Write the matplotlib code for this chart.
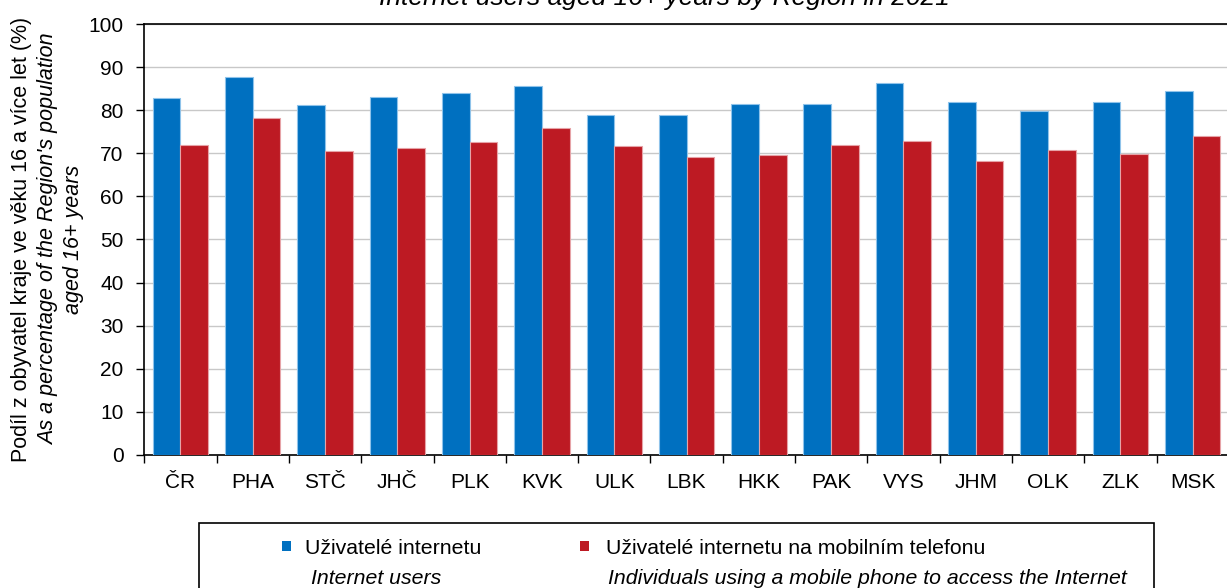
import matplotlib
matplotlib.use("Agg")
import matplotlib.pyplot as plt
from matplotlib.patches import Rectangle

plt.rcParams['font.family'] = ['Liberation Sans', 'DejaVu Sans']

# Regions (kraje) and shares of population aged 16+ (%)
regions = ["ČR", "PHA", "STČ", "JHČ", "PLK", "KVK", "ULK", "LBK",
           "HKK", "PAK", "VYS", "JHM", "OLK", "ZLK", "MSK"]
internet_users = [82.9, 87.6, 81.2, 83.1, 84.1, 85.5, 78.9, 78.9,
                  81.5, 81.4, 86.4, 81.8, 79.7, 81.8, 84.4]
mobile_users = [72.0, 78.3, 70.5, 71.3, 72.7, 75.9, 71.6, 69.1,
                69.7, 71.9, 72.9, 68.3, 70.7, 69.9, 74.0]
y_ticks = [0, 10, 20, 30, 40, 50, 60, 70, 80, 90, 100]

BLUE = "#0070C0"
RED = "#BD1A23"
FS = 15
LFS = 15.3

W, H = 1227, 588
fig = plt.figure(figsize=(W / 100, H / 100), dpi=100)

def fx(px):
    return px / W

def fy(py):
    return (H - py) / H

ax_left, ax_right, ax_top, ax_bottom = 144.3, 1228.8, 24.0, 455.0
ax = fig.add_axes([fx(ax_left), fy(ax_bottom),
                   fx(ax_right - ax_left), (ax_bottom - ax_top) / H])

n = len(regions)
xs = list(range(n))
bw = 0.383
ax.bar([x - bw / 2 for x in xs], internet_users, width=bw, color=BLUE,
       edgecolor="#8fc3ea", linewidth=0.8, zorder=3)
ax.bar([x + bw / 2 for x in xs], mobile_users, width=bw, color=RED,
       edgecolor="#e6a3a7", linewidth=0.8, zorder=3)

ax.set_xlim(-0.5, n - 0.5)
ax.set_ylim(0, 100)
ax.set_yticks(y_ticks)
ax.set_yticklabels([str(v) for v in y_ticks], fontsize=FS)
ax.yaxis.grid(True, color="#c8c8c8", linewidth=1.0, zorder=0)
ax.set_axisbelow(True)

# category boundaries carry the tick marks, labels sit at the centres
ax.set_xticks([x - 0.5 for x in range(n + 1)])
ax.set_xticklabels([])
ax.set_xticks(xs, minor=True)
ax.set_xticklabels(regions, minor=True, fontsize=FS)
ax.tick_params(axis="x", which="major", direction="out", length=6, width=1.0)
ax.tick_params(axis="x", which="minor", length=0, pad=13)
ax.tick_params(axis="y", direction="out", length=6, width=1.0, pad=9)

for side in ("left", "bottom", "top"):
    ax.spines[side].set_color("black")
    ax.spines[side].set_linewidth(1.2)
ax.spines["right"].set_visible(False)

# axis title in three lines (Czech / English)
YL = 15.5
fig.text(fx(27), fy(239), "Podíl z obyvatel kraje ve věku 16 a více let (%)",
         rotation=90, rotation_mode="anchor", ha="center", va="baseline",
         fontsize=YL)
fig.text(fx(54), fy(239), "As a percentage of the Region's population",
         rotation=90, rotation_mode="anchor", ha="center", va="baseline",
         fontsize=YL, style="italic")
fig.text(fx(79), fy(239), "aged 16+ years",
         rotation=90, rotation_mode="anchor", ha="center", va="baseline",
         fontsize=YL, style="italic")

# chart title
fig.text(fx(664), fy(5.5), "Internet users aged 16+ years by Region in 2021",
         ha="center", va="baseline", fontsize=19, style="italic")

# legend box
fig.patches.append(Rectangle((fx(199), -0.05), fx(1154 - 199), fy(522.7) + 0.05,
                             transform=fig.transFigure, facecolor="white",
                             edgecolor="black", linewidth=1.2))
sq = 9.5
fig.patches.append(Rectangle((fx(281.5), fy(550.5)), fx(sq), sq / H,
                             transform=fig.transFigure, facecolor=BLUE,
                             edgecolor="none"))
fig.patches.append(Rectangle((fx(579.5), fy(550.5)), fx(sq), sq / H,
                             transform=fig.transFigure, facecolor=RED,
                             edgecolor="none"))
fig.text(fx(305), fy(546), "Uživatelé internetu", ha="left", va="center_baseline",
         fontsize=LFS)
fig.text(fx(311), fy(576.5), "Internet users", ha="left", va="center_baseline",
         fontsize=LFS, style="italic")
fig.text(fx(605.5), fy(546), "Uživatelé internetu na mobilním telefonu",
         ha="left", va="center_baseline", fontsize=LFS)
fig.text(fx(607.5), fy(576.5),
         "Individuals using a mobile phone to access the Internet",
         ha="left", va="center_baseline", fontsize=LFS, style="italic")

fig.savefig("out.png", dpi=100)
